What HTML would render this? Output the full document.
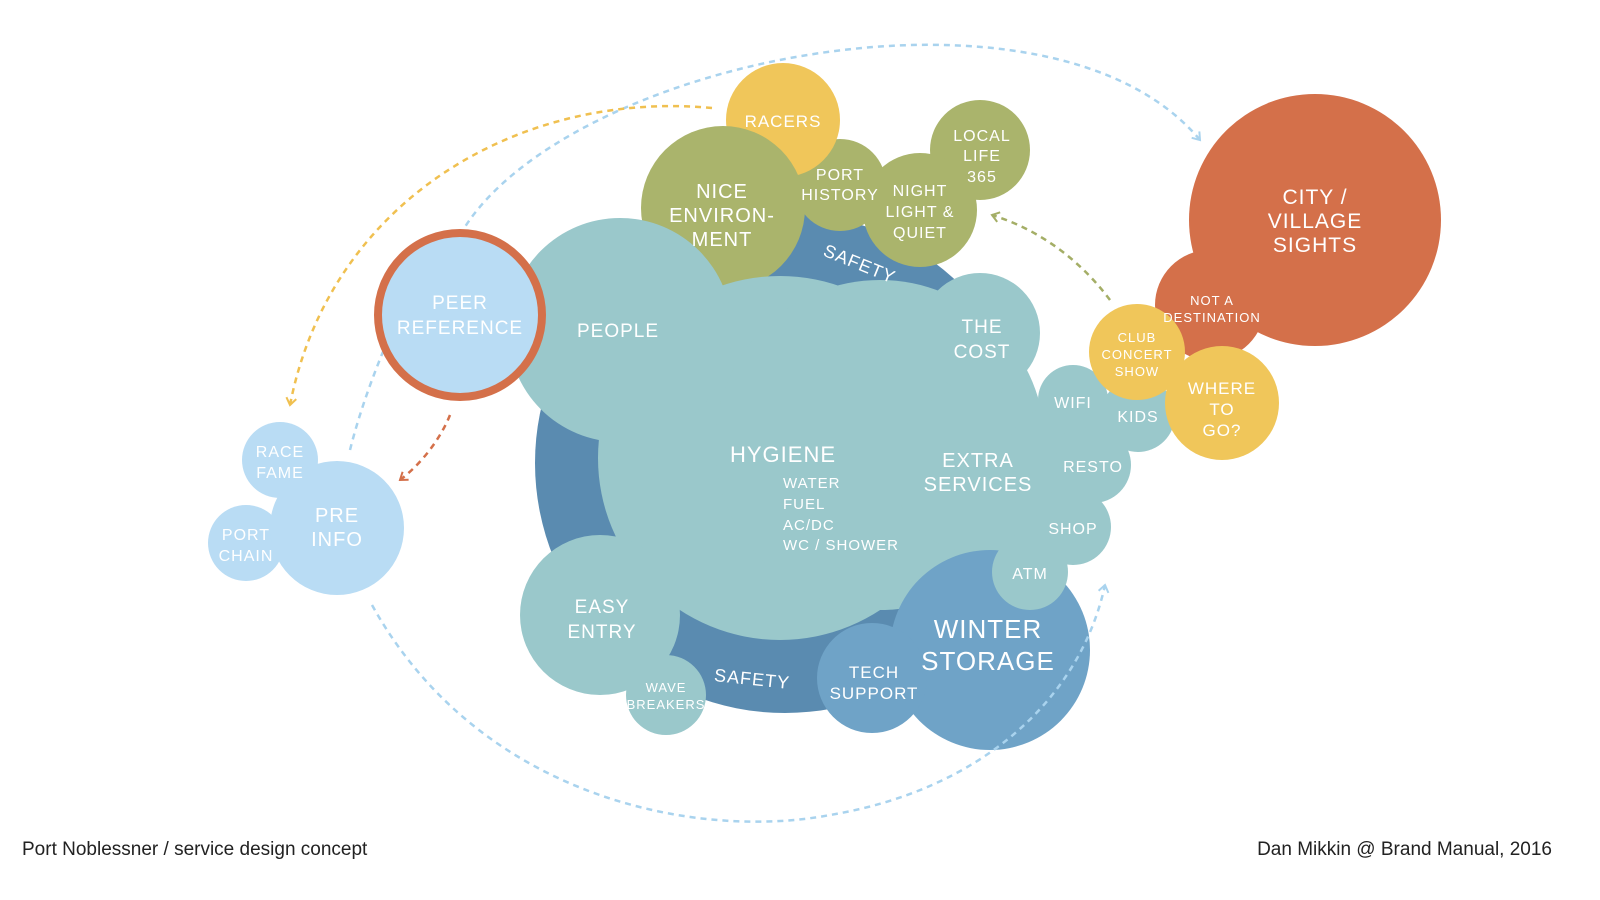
<!DOCTYPE html>
<html><head><meta charset="utf-8"><style>
html,body{margin:0;padding:0;background:#fff;}
svg{display:block;}
text{font-family:"Liberation Sans",sans-serif;fill:#fff;text-anchor:middle;letter-spacing:1px;}
.f{fill:#222;text-anchor:start;letter-spacing:0;font-size:19px;}
</style></head><body>
<svg width="1600" height="900" viewBox="0 0 1600 900">
<defs>
<marker id="ab" markerWidth="12" markerHeight="12" refX="8" refY="6" orient="auto" markerUnits="userSpaceOnUse"><path d="M1,1 L8,6 L1,11" fill="none" stroke="#a9d3ee" stroke-width="2"/></marker>
<marker id="ay" markerWidth="12" markerHeight="12" refX="8" refY="6" orient="auto" markerUnits="userSpaceOnUse"><path d="M1,1 L8,6 L1,11" fill="none" stroke="#f0c050" stroke-width="2"/></marker>
<marker id="ao" markerWidth="12" markerHeight="12" refX="8" refY="6" orient="auto" markerUnits="userSpaceOnUse"><path d="M1,1 L8,6 L1,11" fill="none" stroke="#d4704a" stroke-width="2"/></marker>
<marker id="ag" markerWidth="12" markerHeight="12" refX="8" refY="6" orient="auto" markerUnits="userSpaceOnUse"><path d="M1,1 L8,6 L1,11" fill="none" stroke="#a4ae66" stroke-width="2"/></marker>
</defs>
<g fill="none" stroke-width="2.5" stroke-dasharray="6,5">
<path d="M460,235 C560,60 1050,-40 1200,140" stroke="#a9d3ee" marker-end="url(#ab)"/>
<path d="M712,108 C520,90 330,200 290,405" stroke="#f0c050" marker-end="url(#ay)"/>
<path d="M450,415 C440,440 420,465 400,480" stroke="#d4704a" marker-end="url(#ao)"/>
<path d="M1110,300 C1080,260 1040,230 992,215" stroke="#a4ae66" marker-end="url(#ag)"/>
<path d="M350,450 C360,410 375,370 390,335" stroke="#a9d3ee"/>
</g>
<circle cx="785" cy="463" r="250" fill="#5a8bb0"/>
<circle cx="980" cy="150" r="50" fill="#aab46c"/>
<circle cx="920" cy="210" r="57" fill="#aab46c"/>
<circle cx="840" cy="185" r="46" fill="#aab46c"/>
<circle cx="783" cy="120" r="57" fill="#f0c65a"/>
<circle cx="723" cy="208" r="82" fill="#aab46c"/>
<g fill="#9ac8cb">
<circle cx="780" cy="458" r="182"/>
<circle cx="880" cy="445" r="165"/>
<circle cx="620" cy="330" r="112"/>
<circle cx="980" cy="333" r="60"/>
<circle cx="975" cy="470" r="82"/>
<circle cx="1060" cy="460" r="55"/>
<circle cx="1100" cy="430" r="25"/>
<circle cx="1040" cy="520" r="30"/>
<circle cx="1073" cy="400" r="35"/>
<circle cx="1138" cy="415" r="37"/>
<circle cx="1093" cy="465" r="38"/>
<circle cx="1073" cy="527" r="38"/>
<circle cx="600" cy="615" r="80"/>
<circle cx="666" cy="695" r="40"/>
</g>
<circle cx="990" cy="650" r="100" fill="#6fa3c7"/>
<circle cx="872" cy="678" r="55" fill="#6fa3c7"/>
<circle cx="1030" cy="572" r="38" fill="#9ac8cb"/>
<path d="M372,605 C480,800 700,840 830,815 C980,790 1080,700 1105,585" fill="none" stroke="#a9d3ee" stroke-width="2.5" stroke-dasharray="6,5" marker-end="url(#ab)"/>
<circle cx="460" cy="315" r="82" fill="#b9dcf4" stroke="#d4704a" stroke-width="8"/>
<g fill="#b9dcf4">
<circle cx="280" cy="460" r="38"/>
<circle cx="246" cy="543" r="38"/>
<circle cx="337" cy="528" r="67"/>
</g>
<circle cx="1315" cy="220" r="126" fill="#d4704a"/>
<circle cx="1210" cy="305" r="55" fill="#d4704a"/>
<circle cx="1137" cy="352" r="48" fill="#f0c65a"/>
<circle cx="1222" cy="403" r="57" fill="#f0c65a"/>
<text x="783" y="127" font-size="17">RACERS</text>
<text x="722" y="198" font-size="20">NICE</text><text x="722" y="222" font-size="20">ENVIRON-</text><text x="722" y="246" font-size="20">MENT</text>
<text x="840" y="180" font-size="16">PORT</text><text x="840" y="200" font-size="16">HISTORY</text>
<text x="920" y="196" font-size="16">NIGHT</text><text x="920" y="217" font-size="16">LIGHT &amp;</text><text x="920" y="238" font-size="16">QUIET</text>
<text x="982" y="141" font-size="16">LOCAL</text><text x="982" y="161" font-size="16">LIFE</text><text x="982" y="182" font-size="16">365</text>
<text x="860" y="270" font-size="18" transform="rotate(22 860 263)">SAFETY</text>
<text x="752" y="685" font-size="18" transform="rotate(6 752 680)">SAFETY</text>
<text x="460" y="309" font-size="19">PEER</text><text x="460" y="334" font-size="19">REFERENCE</text>
<text x="618" y="337" font-size="19">PEOPLE</text>
<text x="982" y="333" font-size="19">THE</text><text x="982" y="358" font-size="19">COST</text>
<text x="783" y="462" font-size="22">HYGIENE</text>
<text x="783" y="488" font-size="15" style="text-anchor:start">WATER</text><text x="783" y="509" font-size="15" style="text-anchor:start">FUEL</text><text x="783" y="530" font-size="15" style="text-anchor:start">AC/DC</text><text x="783" y="550" font-size="15" style="text-anchor:start">WC / SHOWER</text>
<text x="978" y="467" font-size="20">EXTRA</text><text x="978" y="491" font-size="20">SERVICES</text>
<text x="1073" y="408" font-size="16">WIFI</text>
<text x="1138" y="422" font-size="16">KIDS</text>
<text x="1093" y="472" font-size="16">RESTO</text>
<text x="1073" y="534" font-size="16">SHOP</text>
<text x="1030" y="579" font-size="16">ATM</text>
<text x="988" y="638" font-size="26">WINTER</text><text x="988" y="670" font-size="26">STORAGE</text>
<text x="874" y="678" font-size="17">TECH</text><text x="874" y="699" font-size="17">SUPPORT</text>
<text x="602" y="613" font-size="19">EASY</text><text x="602" y="638" font-size="19">ENTRY</text>
<text x="666" y="692" font-size="13">WAVE</text><text x="666" y="709" font-size="13">BREAKERS</text>
<text x="280" y="457" font-size="16">RACE</text><text x="280" y="478" font-size="16">FAME</text>
<text x="246" y="540" font-size="16">PORT</text><text x="246" y="561" font-size="16">CHAIN</text>
<text x="337" y="522" font-size="20">PRE</text><text x="337" y="546" font-size="20">INFO</text>
<text x="1315" y="204" font-size="21">CITY /</text><text x="1315" y="228" font-size="21">VILLAGE</text><text x="1315" y="252" font-size="21">SIGHTS</text>
<text x="1212" y="305" font-size="13">NOT A</text><text x="1212" y="322" font-size="13">DESTINATION</text>
<text x="1137" y="342" font-size="13">CLUB</text><text x="1137" y="359" font-size="13">CONCERT</text><text x="1137" y="376" font-size="13">SHOW</text>
<text x="1222" y="394" font-size="17">WHERE</text><text x="1222" y="415" font-size="17">TO</text><text x="1222" y="436" font-size="17">GO?</text>
<text class="f" x="22" y="855">Port Noblessner  / service design concept</text>
<text class="f" x="1552" y="855" style="text-anchor:end">Dan Mikkin @ Brand Manual, 2016</text>
</svg>
</body></html>
